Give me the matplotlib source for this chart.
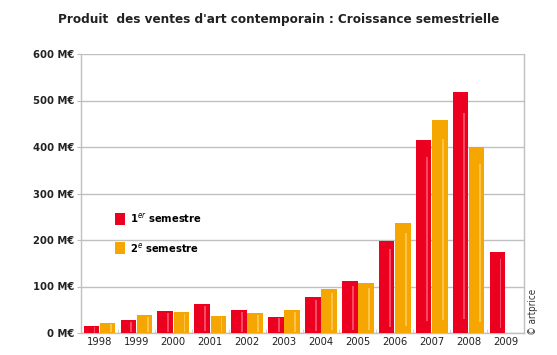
import numpy as np
import matplotlib.pyplot as plt

years = ['1998', '1999', '2000', '2001', '2002', '2003', '2004', '2005', '2006', '2007', '2008', '2009']
sem1 = [15, 27, 48, 63, 50, 35, 78, 112, 198, 415, 519, 175]
sem2 = [22, 38, 45, 37, 43, 49, 95, 107, 236, 458, 399, None]
yticks = [0, 100, 200, 300, 400, 500, 600]
ytick_labels = ['%d M€' % v for v in yticks]

plt.rcParams['font.family'] = ['DejaVu Sans']
plt.rcParams['font.stretch'] = 'condensed'

red = '#ec0020'
orange = '#f5a600'

fig = plt.figure(figsize=(5.57, 3.55), dpi=100)
ax = fig.add_axes([81 / 557, 1 - 333 / 355, 443 / 557, 279 / 355])

x = np.arange(len(years))
w = 0.42
gap = 0.02
s1 = np.array(sem1, dtype=float)
s2 = np.array([np.nan if v is None else v for v in sem2], dtype=float)

ax.bar(x - w / 2 - gap / 2, s1, w, color=red, zorder=3, label='1$^{er}$ semestre')
ax.bar(x + w / 2 + gap / 2, s2, w, color=orange, zorder=3, label='2$^{e}$ semestre')
# soft highlight stripe on each bar
ax.bar(x - w / 2 - gap / 2 + w * 0.2, s1 * 0.85, w * 0.12,
       bottom=s1 * 0.06, color='#ff7d8f', alpha=0.6, zorder=4)
ax.bar(x + w / 2 + gap / 2 + w * 0.2, s2 * 0.85, w * 0.12,
       bottom=s2 * 0.06, color='#ffd36b', alpha=0.7, zorder=4)

ax.set_xlim(-0.5, len(years) - 0.5)
ax.set_ylim(0, 600)
ax.set_yticks(yticks)
ax.set_yticklabels(ytick_labels, fontsize=8, fontweight='bold', color='#222222')
ax.set_xticks(x)
ax.set_xticklabels(years, fontsize=8, color='#222222')
ax.set_xticks(x[:-1] + 0.5, minor=True)
ax.tick_params(axis='x', which='major', length=0, pad=3)
ax.tick_params(axis='x', which='minor', length=3, color='#cccccc', direction='in')
ax.tick_params(axis='y', length=3, color='#bbbbbb', pad=2)
ax.grid(axis='y', color='#c0c0c0', linewidth=1, zorder=0)
for s in ['left', 'right', 'bottom']:
    ax.spines[s].set_color('#c0c0c0')
    ax.spines[s].set_linewidth(1)
ax.spines['top'].set_visible(False)

leg = ax.legend(loc='lower left', bbox_to_anchor=(0.055, 0.245), frameon=False,
                fontsize=8, handlelength=0.9, handleheight=1.2, labelspacing=1.4,
                handletextpad=0.4)
for t in leg.get_texts():
    t.set_fontweight('bold')

fig.text(0.5, 1 - 20 / 355, "Produit  des ventes d'art contemporain : Croissance semestrielle",
         ha='center', va='center', fontsize=9.6, fontweight='bold', color='#222222')
fig.text(533 / 557, 1 - 312 / 355, '© artprice', rotation=90, ha='center', va='center',
         fontsize=7, color='#333333')

fig.savefig('out.png', dpi=100)
